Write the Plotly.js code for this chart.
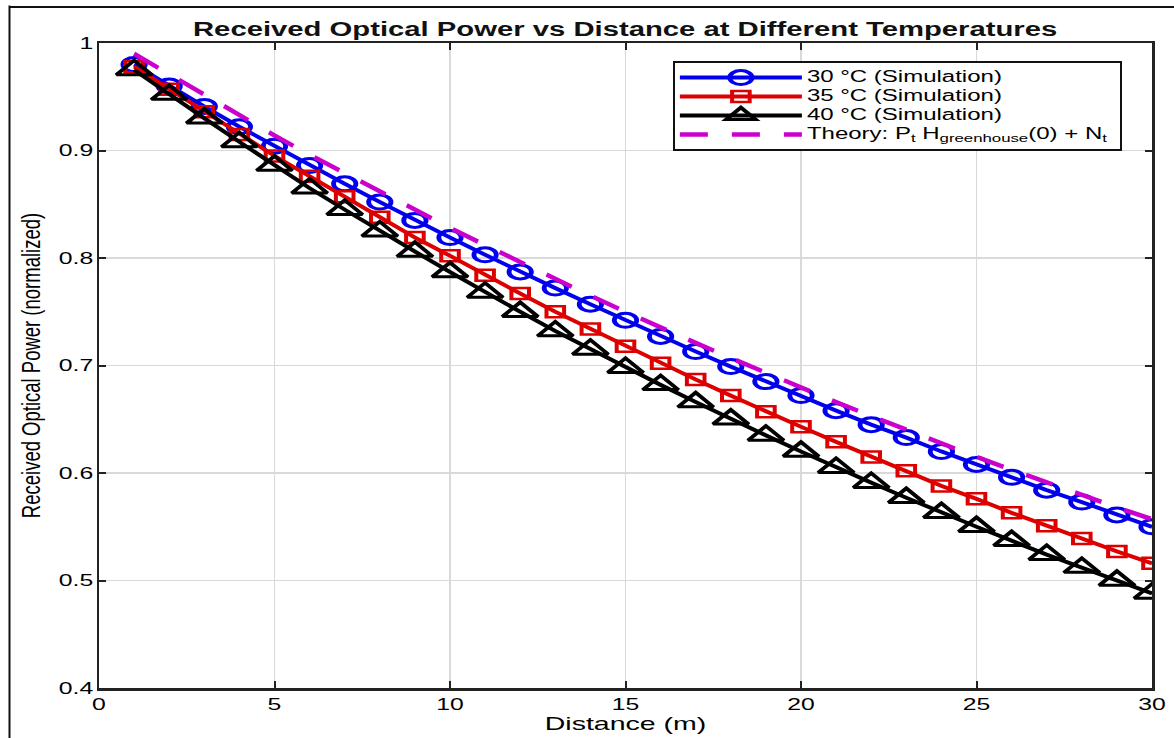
<!DOCTYPE html>
<html>
<head>
<meta charset="utf-8">
<script src="https://cdn.plot.ly/plotly-3.0.1.min.js"></script>
<style>html,body{margin:0;padding:0;background:#fff;}#chart{width:1174px;height:738px;}</style>
</head>
<body>
<div id="chart"></div>
<script>
const distance = [1,2,3,4,5,6,7,8,9,10,11,12,13,14,15,16,17,18,19,20,21,22,23,24,25,26,27,28,29,30];
const power30 = [0.980,0.960,0.941,0.922,0.904,0.886,0.869,0.852,0.835,0.819,0.803,0.787,0.772,0.757,0.742,0.727,0.713,0.699,0.685,0.672,0.658,0.645,0.633,0.620,0.608,0.596,0.584,0.573,0.561,0.550];
const power35 = [0.978,0.957,0.936,0.915,0.895,0.876,0.857,0.838,0.819,0.802,0.784,0.767,0.750,0.734,0.718,0.702,0.687,0.672,0.657,0.643,0.629,0.615,0.602,0.588,0.576,0.563,0.551,0.539,0.527,0.516];
const power40 = [0.975,0.952,0.930,0.908,0.886,0.865,0.845,0.825,0.806,0.787,0.768,0.750,0.732,0.715,0.698,0.682,0.666,0.650,0.635,0.620,0.605,0.591,0.577,0.563,0.550,0.537,0.524,0.512,0.500,0.488];
const theory = [0.990,0.971,0.951,0.933,0.914,0.896,0.879,0.861,0.845,0.828,0.812,0.796,0.780,0.765,0.750,0.735,0.721,0.707,0.693,0.679,0.666,0.653,0.640,0.627,0.615,0.603,0.591,0.579,0.568,0.557];
const seriesNames = ['30 °C (Simulation)', '35 °C (Simulation)', '40 °C (Simulation)',
                     'Theory: P<sub>t</sub> H<sub>greenhouse</sub>(0) + N<sub>t</sub>'];
const xTicks = [0,5,10,15,20,25,30];
const yTicks = [0.4,0.5,0.6,0.7,0.8,0.9,1];
const yTickLabels = ['0.4','0.5','0.6','0.7','0.8','0.9','1'];

const font = 'Liberation Sans, Arial, sans-serif';

const traces = [
  {x: distance, y: power30, name: seriesNames[0], mode: 'lines+markers',
   line: {color: '#0000ee', width: 4},
   marker: {symbol: 'circle-open', size: 14, color: '#0000ee', line: {width: 3}}},
  {x: distance, y: power35, name: seriesNames[1], mode: 'lines+markers',
   line: {color: '#dd0000', width: 4},
   marker: {symbol: 'square-open', size: 11, color: '#dd0000', line: {width: 2.5}}},
  {x: distance, y: power40, name: seriesNames[2], mode: 'lines+markers',
   line: {color: '#000000', width: 4},
   marker: {symbol: 'triangle-up-open', size: 19, color: '#000000', line: {width: 3}}},
  {x: distance, y: theory, name: seriesNames[3], mode: 'lines',
   line: {color: '#cc00cc', width: 4.5, dash: '28px,24px'}}
];

const layout = {
  width: 1174, height: 738,
  margin: {l: 99, r: 22, t: 43, b: 50},
  paper_bgcolor: '#ffffff', plot_bgcolor: '#ffffff',
  font: {family: font, size: 16, color: '#000'},
  showlegend: true,
  title: {text: '<b>Received Optical Power vs Distance at Different Temperatures</b>',
          font: {family: font, size: 19.5, color: '#111'},
          x: 0.5325, xanchor: 'center', y: 0.96, yanchor: 'middle'},
  xaxis: {range: [0, 30], tickvals: xTicks, ticktext: xTicks.map(String),
          showgrid: true, gridcolor: '#d9d9d9', gridwidth: 1.5,
          zeroline: false, showline: true, linecolor: '#222', linewidth: 2.5, mirror: 'ticks',
          ticks: 'inside', ticklen: 7, tickwidth: 2, tickcolor: '#222',
          tickfont: {family: font, size: 16.5, color: '#000'},
          title: {text: 'Distance (m)', font: {family: font, size: 19, color: '#000'}, standoff: 0}},
  yaxis: {range: [0.4, 1], tickvals: yTicks, ticktext: yTickLabels,
          showgrid: true, gridcolor: '#d9d9d9', gridwidth: 1.5,
          zeroline: false, showline: true, linecolor: '#222', linewidth: 2.5, mirror: 'ticks',
          ticks: 'inside', ticklen: 7, tickwidth: 2, tickcolor: '#222',
          tickfont: {family: font, size: 16.5, color: '#000'},
          title: {text: 'Received Optical Power (normalized)', font: {family: font, size: 18.5, color: '#000'}, standoff: 25}},
  legend: {x: 0.545, y: 0.972, xanchor: 'left', yanchor: 'top',
           bgcolor: '#ffffff', bordercolor: '#111', borderwidth: 2,
           font: {family: font, size: 11.3, color: '#000'},
           itemwidth: 122, tracegroupgap: 0},
  shapes: [
    {type: 'line', xref: 'paper', yref: 'paper', x0: -0.085, x1: -0.085, y0: -0.08, y1: 1.058,
     line: {color: '#111', width: 2}},
    {type: 'line', xref: 'paper', yref: 'paper', x0: -0.085, x1: 1.03, y0: 1.056, y1: 1.056,
     line: {color: '#111', width: 2}}
  ]
};

const STRETCH = 1.5;
function stretchText(el, f) {
  const w = el.getComputedTextLength();
  if (w > 0) {
    el.setAttribute('textLength', (w * f).toFixed(1));
    el.setAttribute('lengthAdjust', 'spacingAndGlyphs');
  }
  return w;
}

Plotly.newPlot('chart', traces, layout, {displayModeBar: false, staticPlot: true}).then(gd => {
  gd.querySelectorAll('.gtitle, .xtitle, .xtick text, .ytick text').forEach(el => stretchText(el, STRETCH));
  // y title: widen glyphs across the text direction (horizontal on screen)
  gd.querySelectorAll('.ytitle').forEach(el => {
    const x = +el.getAttribute('x'), y = +el.getAttribute('y');
    el.setAttribute('transform',
      `rotate(-90,${x},${y}) translate(${x},${y}) scale(1,1.4) translate(${-x},${-y})`);
  });
  let maxOld = 0, maxNew = 0;
  gd.querySelectorAll('.legend .legendtext').forEach(el => {
    maxOld = Math.max(maxOld, el.getComputedTextLength());
    el.style.fontSize = '16px';
    const w = stretchText(el, STRETCH);
    maxNew = Math.max(maxNew, w * STRETCH);
  });
  const extra = maxNew - maxOld + 6;
  gd.querySelectorAll('.legend rect.bg').forEach(r => {
    r.setAttribute('width', (+r.getAttribute('width') + extra).toFixed(1));
  });
  document.querySelectorAll('clipPath[id^="legend"] rect').forEach(r => {
    r.setAttribute('width', (+r.getAttribute('width') + extra).toFixed(1));
  });
  gd.querySelectorAll('.scatterlayer .points path, .legend .legendpoints path').forEach(p => {
    const t = p.getAttribute('transform') || '';
    p.setAttribute('transform', t + ' scale(1.6,1)');
  });
});
</script>
</body>
</html>
